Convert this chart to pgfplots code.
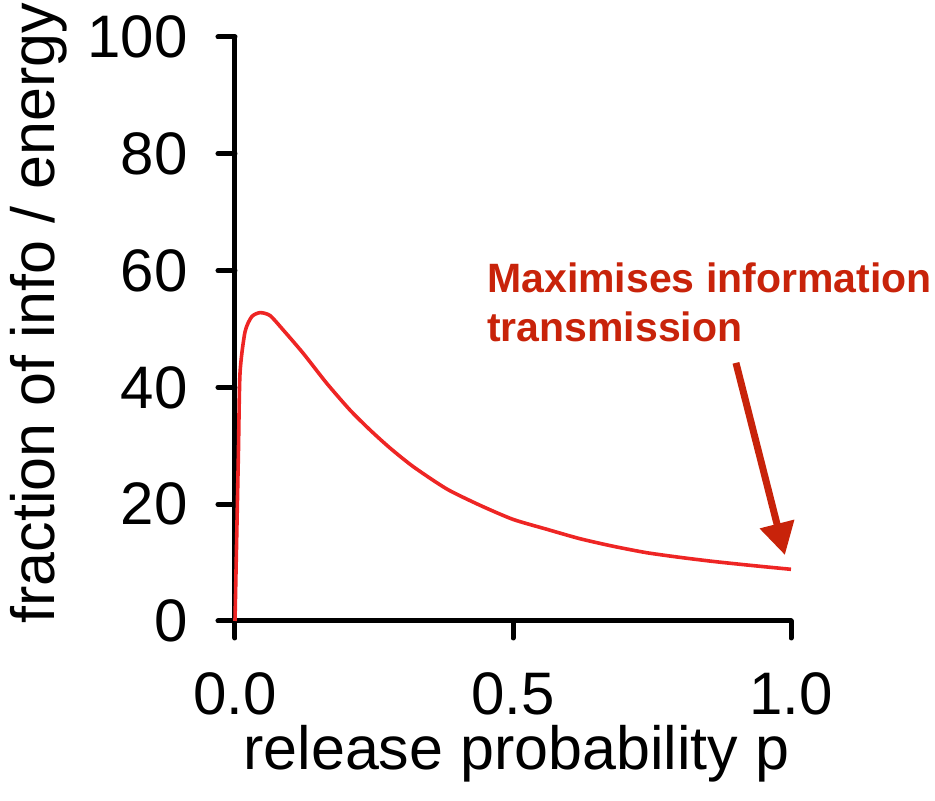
\documentclass[border=0pt]{standalone}
\usepackage{fontspec}
\setmainfont{Liberation Sans}
\usepackage{pgfplots}
\pgfplotsset{compat=1.18}
\usetikzlibrary{arrows.meta}
\definecolor{curvered}{HTML}{EE2524}
\definecolor{notered}{HTML}{C8230A}

\begin{document}
\begin{tikzpicture}
\begin{axis}[
  scale only axis, width=278pt, height=292pt,
  xmin=0, xmax=1, ymin=0, ymax=100,
  axis x line*=bottom, axis y line*=left,
  axis line style={line width=2.5pt, line cap=round},
  xtick={0,0.5,1}, xticklabels={0.0,0.5,1.0},
  ytick={0,20,40,60,80,100},
  tick align=outside, major tick length=8.5pt,
  tick style={line width=2.5pt, black, line cap=round},
  /pgf/number format/assume math mode=true,
  ticklabel style={font=\fontsize{30}{36}\selectfont},
  yticklabel style={anchor=east, inner sep=1pt, xshift=-14pt},
  xticklabel style={anchor=north, inner sep=2pt, yshift=-15pt},
  label style={font=\fontsize{30.5}{36}\selectfont},
  xlabel={release probability p},
  ylabel={fraction of info / energy},
  xlabel style={at={(axis description cs:0.506,-0.255)}, anchor=base},
  ylabel style={at={(axis description cs:-0.324,0.527)}, anchor=base},
  clip=false,
]
% efficiency curve: steep rise, peak near p = 0.045, then slow decay
\addplot[curvered, line width=1.8pt, line join=round, smooth, tension=0.4] coordinates {
  (0,0) (0.006,28.1) (0.009,42.4) (0.018,49.5) (0.030,52.1) (0.045,52.8)
  (0.063,52.3) (0.087,49.8) (0.123,45.8) (0.165,40.7) (0.207,36.1)
  (0.243,32.7) (0.279,29.6) (0.321,26.4) (0.381,22.6) (0.441,19.8)
  (0.5,17.4) (0.561,15.7) (0.62,14.1) (0.68,12.8) (0.74,11.7)
  (0.80,10.9) (0.86,10.2) (0.93,9.5) (1.0,8.85)
};
\node[anchor=base west, inner sep=0, text=notered,
      font=\bfseries\fontsize{20.5}{24.5}\selectfont]
  at (axis cs:0.453,56.3) {Maximises information};
\node[anchor=base west, inner sep=0, text=notered,
      font=\bfseries\fontsize{20.5}{24.5}\selectfont]
  at (axis cs:0.453,47.9) {transmission};
\draw[notered, line width=3.5pt, -{Triangle[width=17pt,length=16pt]}]
  (axis cs:0.901,44.2) -- (axis cs:0.989,11.3);
\end{axis}
\pgfresetboundingbox
\path (-117.5pt,-90pt) rectangle (350pt,310.5pt);
\end{tikzpicture}
\end{document}
